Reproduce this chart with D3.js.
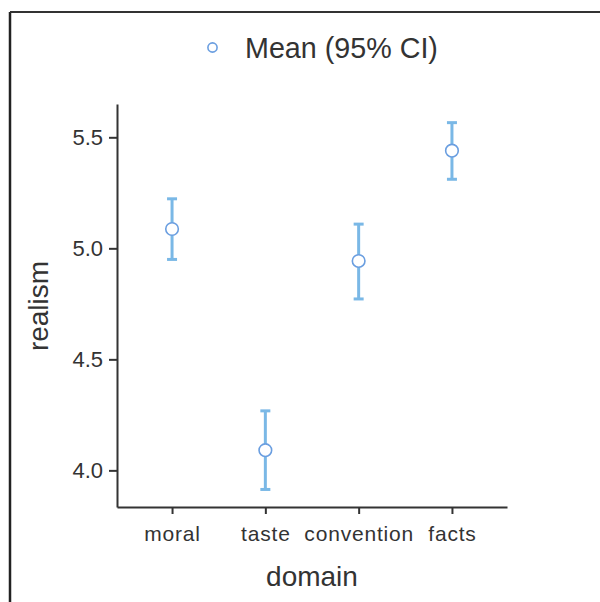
<!DOCTYPE html>
<html>
<head>
<meta charset="utf-8">
<script src="https://cdn.jsdelivr.net/npm/d3@7"></script>
<style>
html,body{margin:0;padding:0;background:#fff;}
svg{display:block;}
text{font-family:"Liberation Sans",Arial,sans-serif;fill:#333;}
</style>
</head>
<body>
<svg id="chart" width="600" height="602"></svg>
<script>
const categories = ["moral", "taste", "convention", "facts"];
const means = [5.087, 4.091, 4.943, 5.44];
const lowerCI = [4.95, 3.914, 4.772, 5.311];
const upperCI = [5.223, 4.268, 5.109, 5.566];
const yTicks = [4.0, 4.5, 5.0, 5.5];
const legendLabel = "Mean (95% CI)";
const xTitle = "domain";
const yTitle = "realism";

(function(){
const svg = d3.select("#chart");

// outer frame (left and top edges visible)
svg.append("line").attr("x1",10).attr("x2",10).attr("y1",12).attr("y2",602)
  .attr("stroke","#222").attr("stroke-width",2.5);
svg.append("line").attr("x1",10).attr("x2",600).attr("y1",12).attr("y2",12)
  .attr("stroke","#333").attr("stroke-width",2);

const pLeft = 117, pRight = 507, pTop = 104, pBottom = 507;

const x = d3.scalePoint().domain(categories).range([pLeft, pRight]).padding(0.59);
const y = d3.scaleLinear().domain([3.835, 5.65]).range([pBottom, pTop]);

// y axis
const yAxis = svg.append("g").attr("transform", `translate(${pLeft},0)`)
  .call(d3.axisLeft(y).tickValues(yTicks).tickFormat(d3.format(".1f")).tickSize(8).tickPadding(6).tickSizeOuter(0));
yAxis.select(".domain").attr("stroke","#333").attr("stroke-width",2);
yAxis.selectAll(".tick line").attr("stroke","#333").attr("stroke-width",2);
yAxis.selectAll(".tick text").attr("font-size",22).attr("fill","#333")
  .style("font-family",'"Liberation Sans",Arial,sans-serif');

// x axis
const xAxis = svg.append("g").attr("transform", `translate(0,${pBottom})`)
  .call(d3.axisBottom(x).tickSize(7).tickPadding(12).tickSizeOuter(0));
xAxis.select(".domain").attr("stroke","#333").attr("stroke-width",2);
xAxis.selectAll(".tick line").attr("stroke","#333").attr("stroke-width",2);
xAxis.selectAll(".tick text").attr("font-size",21).attr("fill","#333")
  .style("font-family",'"Liberation Sans",Arial,sans-serif')
  .style("letter-spacing","0.8px");

// axis titles
svg.append("text").attr("x",(pLeft+pRight)/2).attr("y",586)
  .attr("text-anchor","middle").attr("font-size",28).text(xTitle);
svg.append("text").attr("transform",`translate(48,${306}) rotate(-90)`)
  .attr("text-anchor","middle").attr("font-size",28).text(yTitle);

// error bars
const barColor = "#7ab8e6";
const g = svg.append("g");
categories.forEach((c,i) => {
  const cx = x(c);
  g.append("line").attr("x1",cx).attr("x2",cx).attr("y1",y(lowerCI[i])).attr("y2",y(upperCI[i]))
    .attr("stroke",barColor).attr("stroke-width",3);
  [lowerCI[i], upperCI[i]].forEach(v => {
    g.append("line").attr("x1",cx-5).attr("x2",cx+5).attr("y1",y(v)).attr("y2",y(v))
      .attr("stroke",barColor).attr("stroke-width",3);
  });
});
g.selectAll("circle").data(categories).join("circle")
  .attr("cx", d => x(d)).attr("cy", (d,i) => y(means[i])).attr("r",6.3)
  .attr("fill","#fff").attr("stroke","#6a9ee0").attr("stroke-width",1.6);

// legend
svg.append("circle").attr("cx",212.5).attr("cy",47.5).attr("r",4.6)
  .attr("fill","#fff").attr("stroke","#6a9ee0").attr("stroke-width",1.6);
svg.append("text").attr("x",245).attr("y",58).attr("font-size",28.7).attr("fill","#333").text(legendLabel);
})();
</script>
</body>
</html>
